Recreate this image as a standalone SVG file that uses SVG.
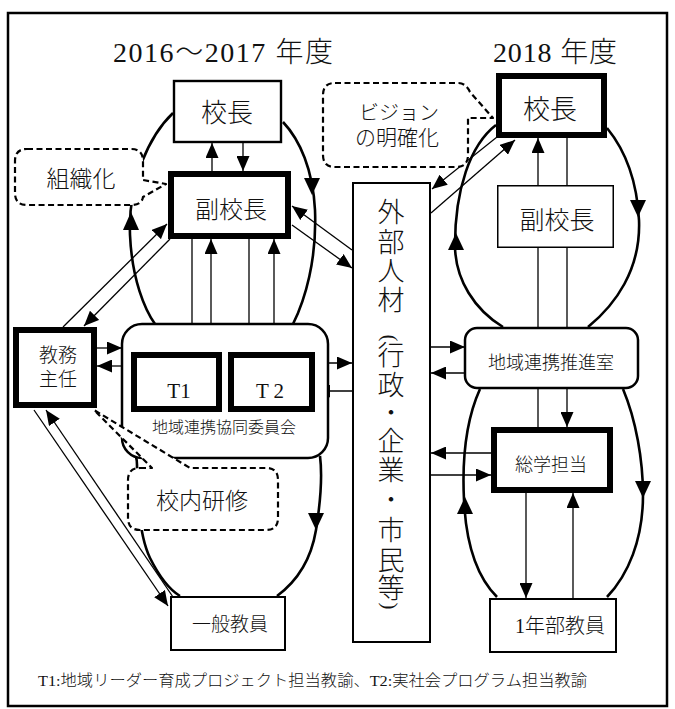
<svg xmlns="http://www.w3.org/2000/svg" width="675" height="709" viewBox="0 0 675 709">
<style>
  .t { font-family: "Liberation Serif", "Noto Sans CJK JP", serif; fill: #111; font-weight: 300; }
  .box { fill: #fff; stroke: #000; }
  .thin { stroke-width: 2; }
  .thick { stroke-width: 6; }
  .loop { fill: none; stroke: #000; stroke-width: 2.6; }
  .conn { fill: none; stroke: #000; stroke-width: 1.3; }
  .call { fill: #fff; stroke: #000; stroke-width: 2.2; stroke-dasharray: 6 3.5; stroke-linejoin: round; }
  .head { fill: #000; }
</style>
<defs>
  <marker id="ah" viewBox="0 0 15 13" refX="15" refY="6.5" markerWidth="15" markerHeight="13" markerUnits="userSpaceOnUse" orient="auto">
    <path d="M0,0 L15,6.5 L0,13 z" fill="#000"/>
  </marker>
</defs>
<rect x="0" y="0" width="675" height="709" fill="#fff"/>
<rect id="frame" x="8" y="13" width="659" height="693" fill="none" stroke="#000" stroke-width="2.5"/>

<text class="t" x="113" y="62" font-size="28" textLength="220" lengthAdjust="spacing">2016～2017 年度</text>
<text class="t" x="493" y="62" font-size="28" textLength="124" lengthAdjust="spacing">2018 年度</text>

<!-- loops -->
<g id="loops">
  <path class="loop" d="M173,113 C150,135 128,180 130,235 C132,280 145,310 155,324"/>
  <path class="loop" d="M283,122 C300,140 313,170 315,210 C317,260 305,300 293,324"/>
  <path class="loop" d="M121,433 C131,443 137,452 137,465 C137,500 139,535 150,558 C160,578 170,590 180,596"/>
  <path class="loop" d="M320,456 C323,480 320,505 316,530 C311,560 296,582 277,596"/>
  <path class="loop" d="M496,125 C470,145 455,190 455,245 C455,280 475,310 503,327"/>
  <path class="loop" d="M607,128 C625,150 637,180 639,220 C641,270 615,305 588,327"/>
  <path class="loop" d="M480,389 C466,420 462,460 464,500 C466,545 478,578 497,597"/>
  <path class="loop" d="M623,389 C636,420 643,460 643,495 C643,540 628,575 607,597"/>
  <polygon class="head" points="131,212 123,230 139,230"/>
  <polygon class="head" points="312,195 304,178 320,178"/>
  <polygon class="head" points="316,530 308,513 324,513"/>
  <polygon class="head" points="456,233 448,250 464,250"/>
  <polygon class="head" points="638,217 630,200 646,200"/>
  <polygon class="head" points="465,497 457,514 473,514"/>
  <polygon class="head" points="643,498 635,481 651,481"/>
</g>

<!-- connectors -->
<g id="connectors">
  <line class="conn" x1="243" y1="143" x2="243" y2="171" marker-end="url(#ah)"/>
  <line class="conn" x1="212" y1="171" x2="212" y2="143" marker-end="url(#ah)"/>
  <line class="conn" x1="192" y1="239" x2="192" y2="352" marker-end="url(#ah)"/>
  <line class="conn" x1="211" y1="352" x2="211" y2="239" marker-end="url(#ah)"/>
  <line class="conn" x1="249" y1="239" x2="249" y2="352" marker-end="url(#ah)"/>
  <line class="conn" x1="274" y1="352" x2="274" y2="239" marker-end="url(#ah)"/>
  <line class="conn" x1="63" y1="327" x2="167" y2="224" marker-end="url(#ah)"/>
  <line class="conn" x1="170" y1="239" x2="84" y2="326" marker-end="url(#ah)"/>
  <line class="conn" x1="97" y1="348" x2="122" y2="348" marker-end="url(#ah)"/>
  <line class="conn" x1="122" y1="366" x2="97" y2="366" marker-end="url(#ah)"/>
  <line class="conn" x1="34" y1="410" x2="168" y2="606" marker-end="url(#ah)"/>
  <line class="conn" x1="173" y1="597" x2="46" y2="410" marker-end="url(#ah)"/>
  <line class="conn" x1="352" y1="250" x2="292" y2="206" marker-end="url(#ah)"/>
  <line class="conn" x1="292" y1="225" x2="352" y2="268" marker-end="url(#ah)"/>
  <line class="conn" x1="315" y1="363" x2="352" y2="363" marker-end="url(#ah)"/>
  <line class="conn" x1="352" y1="391" x2="315" y2="391" marker-end="url(#ah)"/>
  <line class="conn" x1="431" y1="213" x2="515" y2="140" marker-end="url(#ah)"/>
  <line class="conn" x1="497" y1="137" x2="432" y2="189" marker-end="url(#ah)"/>
  <line class="conn" x1="431" y1="347" x2="465" y2="347" marker-end="url(#ah)"/>
  <line class="conn" x1="465" y1="373" x2="431" y2="373" marker-end="url(#ah)"/>
  <line class="conn" x1="491" y1="453" x2="431" y2="453" marker-end="url(#ah)"/>
  <line class="conn" x1="431" y1="475" x2="491" y2="475" marker-end="url(#ah)"/>
  <line class="conn" x1="567" y1="388" x2="567" y2="427" marker-end="url(#ah)"/>
  <line class="conn" x1="538" y1="388" x2="538" y2="427"/>
  <line class="conn" x1="538" y1="185" x2="538" y2="138" marker-end="url(#ah)"/>
  <line class="conn" x1="567" y1="185" x2="567" y2="138"/>
  <line class="conn" x1="538" y1="248" x2="538" y2="328"/>
  <line class="conn" x1="567" y1="248" x2="567" y2="328"/>
  <line class="conn" x1="526" y1="493" x2="526" y2="598" marker-end="url(#ah)"/>
  <line class="conn" x1="573" y1="598" x2="573" y2="493" marker-end="url(#ah)"/>
</g>

<!-- nodes -->
<g id="kocho-left">
  <rect class="box" x="174" y="81" width="107" height="61" stroke-width="2.4"/>
  <text class="t" x="227" y="122" font-size="26" text-anchor="middle">校長</text>
</g>
<g id="fukukocho-left">
  <rect class="box thick" x="171" y="174" width="117" height="62"/>
  <text class="t" x="231" y="218" font-size="24" text-anchor="middle">副校長</text>
</g>
<g id="committee">
  <rect class="box" x="122" y="324" width="206" height="134" rx="20" stroke-width="2.5"/>
  <text class="t" x="224" y="433" font-size="16" text-anchor="middle">地域連携協同委員会</text>
</g>
<g id="t1">
  <rect class="box thick" x="134" y="355" width="85" height="54"/>
  <text class="t" x="179" y="398" font-size="21" text-anchor="middle">T1</text>
</g>
<g id="t2">
  <rect class="box thick" x="231" y="355" width="81" height="54"/>
  <text class="t" x="270" y="398" font-size="21" text-anchor="middle">T 2</text>
</g>
<g id="kyomu">
  <rect class="box thick" x="16" y="330" width="78" height="75"/>
  <text class="t" x="58" y="362" font-size="19" text-anchor="middle">教務</text>
  <text class="t" x="58" y="386" font-size="19" text-anchor="middle">主任</text>
</g>
<g id="ippan">
  <rect class="box thin" x="171" y="597" width="114" height="53"/>
  <text class="t" x="230" y="631" font-size="19" text-anchor="middle">一般教員</text>
</g>
<g id="gaibu">
  <rect class="box thin" x="353" y="183" width="77" height="459"/>
  <g class="t" font-size="27" text-anchor="middle">
    <text x="391" y="222">外</text>
    <text x="391" y="252">部</text>
    <text x="391" y="281">人</text>
    <text x="391" y="310">材</text>
    <text x="389" y="344" font-size="21" transform="rotate(90 389 338)">(</text>
    <text x="391" y="365">行</text>
    <text x="391" y="395">政</text>
    <text x="391" y="421" font-size="24">・</text>
    <text x="391" y="451">企</text>
    <text x="391" y="480">業</text>
    <text x="391" y="508" font-size="24">・</text>
    <text x="391" y="540">市</text>
    <text x="391" y="570">民</text>
    <text x="391" y="598">等</text>
    <text x="389" y="612" font-size="21" transform="rotate(90 389 606)">)</text>
  </g>
</g>
<g id="kocho-right">
  <rect class="box thick" x="499" y="76" width="105" height="59"/>
  <text class="t" x="550" y="119" font-size="27" text-anchor="middle">校長</text>
</g>
<g id="fukukocho-right">
  <rect class="box" x="497.75" y="185.75" width="115.5" height="61.5" stroke-width="1.5"/>
  <text class="t" x="557" y="229" font-size="25" text-anchor="middle">副校長</text>
</g>
<g id="suishin">
  <rect class="box" x="465" y="328" width="173" height="60" rx="12" stroke-width="2.5"/>
  <text class="t" x="551" y="369" font-size="18" text-anchor="middle">地域連携推進室</text>
</g>
<g id="sogaku">
  <rect class="box thick" x="494" y="430" width="116" height="60"/>
  <text class="t" x="551" y="471" font-size="18" text-anchor="middle">総学担当</text>
</g>
<g id="nen1">
  <rect class="box thin" x="490" y="599" width="126" height="53"/>
  <text class="t" x="560" y="633" font-size="20" text-anchor="middle">1年部教員</text>
</g>

<!-- callouts -->
<g id="soshikika">
  <path class="call" d="M27,149 H131 Q143,149 143,161 V180 L166,184 L143,197 Q142,205 131,205 H27 Q15,205 15,193 V161 Q15,149 27,149 Z"/>
  <text class="t" x="81" y="187" font-size="23" text-anchor="middle">組織化</text>
</g>
<g id="vision">
  <path class="call" d="M335,83 H458 Q466,83 470,92 L493,118 L468,118 V155 Q468,167 456,167 H335 Q323,167 323,155 V95 Q323,83 335,83 Z"/>
  <text class="t" x="399" y="120" font-size="20" text-anchor="middle">ビジョン</text>
  <text class="t" x="397" y="145" font-size="21" text-anchor="middle">の明確化</text>
</g>
<g id="konai">
  <path class="call" d="M140,468 H152 L94,410 L190,468 H266 Q278,468 278,480 V518 Q278,530 266,530 H140 Q128,530 128,518 V480 Q128,468 140,468 Z"/>
  <text class="t" x="202" y="509" font-size="23" text-anchor="middle">校内研修</text>
</g>

<text class="t" x="38" y="686" font-size="15.5" textLength="549" lengthAdjust="spacingAndGlyphs">T1:地域リーダー育成プロジェクト担当教諭、T2:実社会プログラム担当教諭</text>
</svg>
